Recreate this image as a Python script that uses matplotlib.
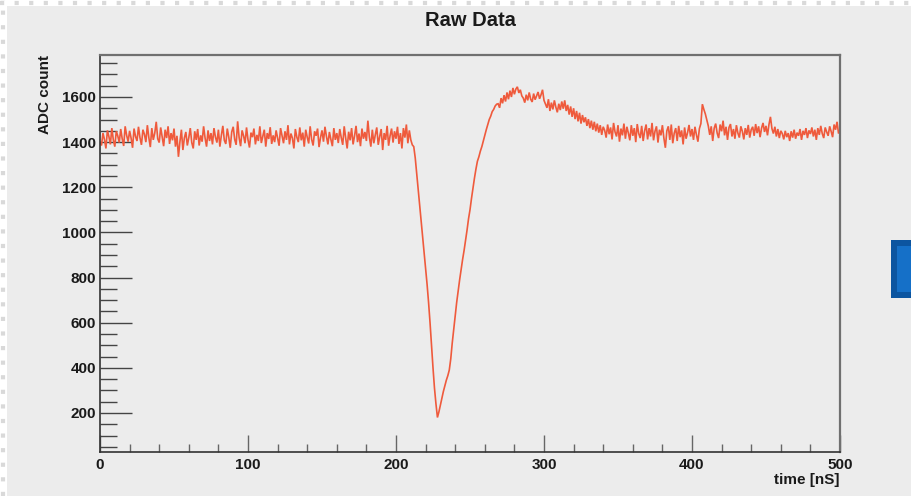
import numpy as np
import matplotlib
matplotlib.use("Agg")
import matplotlib.pyplot as plt
from matplotlib.patches import Rectangle
from matplotlib.lines import Line2D
from matplotlib.ticker import MultipleLocator

plt.rcParams['font.family'] = ['Liberation Sans', 'DejaVu Sans']

title = "Raw Data"
x_label = "time [nS]"
y_label = "ADC count"

# ADC samples, one per nanosecond (t = 0 .. 500)
baseline_pre = [
    1400, 1385, 1440, 1412, 1372, 1452, 1425, 1390, 1462, 1410, 1380, 1448, 1428, 1398, 1458, 1415, 1383, 1470, 1430, 1402,
    1450, 1418, 1375, 1460, 1425, 1405, 1468, 1420, 1388, 1455, 1435, 1400, 1475, 1420, 1378, 1462, 1410, 1440, 1490, 1415,
    1398, 1465, 1425, 1382, 1455, 1418, 1470, 1392, 1440, 1408, 1460, 1380, 1428, 1335, 1402, 1455, 1365, 1418, 1445, 1385,
    1420, 1462, 1398, 1372, 1448, 1410, 1458, 1385, 1430, 1402, 1470, 1418, 1380, 1452, 1405, 1440, 1390, 1462, 1422, 1398,
    1455, 1380, 1430, 1472, 1408, 1392, 1460, 1422, 1375, 1445, 1468, 1412, 1388, 1492, 1420, 1382, 1452, 1428, 1395, 1465,
    1410, 1376, 1442, 1422, 1460, 1390, 1432, 1405, 1470, 1396, 1425, 1455, 1380, 1440, 1414, 1466, 1392, 1430, 1400, 1452,
    1418, 1384, 1462, 1428, 1395, 1448, 1410, 1475, 1390, 1438, 1418, 1372, 1458, 1422, 1400, 1465, 1408, 1442, 1380, 1455,
    1422, 1394, 1470, 1412, 1385, 1448, 1428, 1460, 1378, 1420, 1452, 1402, 1468, 1425, 1390, 1445, 1412, 1382, 1462, 1410,
    1440, 1396, 1458, 1420, 1388, 1470, 1418, 1372, 1446, 1408, 1462, 1390, 1428, 1472, 1400, 1438, 1382, 1460, 1415, 1445,
    1405, 1495, 1422, 1380, 1455, 1395, 1432, 1465, 1388, 1425, 1458, 1365, 1440, 1410, 1472, 1384, 1428, 1460, 1398, 1448,
    1415, 1468, 1392, 1440, 1372, 1462, 1420, 1478, 1395, 1452, 1410, 1388,
]
falling_edge = [1380, 1330, 1260, 1190, 1120, 1050, 980, 910, 840, 770, 690, 600, 500, 400, 310, 240, 180]
rising_edge = [
    205, 235, 265, 295, 320, 345, 365, 390, 440, 510,
    570, 630, 690, 740, 790, 835, 880, 920, 965, 1010,
    1060, 1100, 1150, 1195, 1240, 1280, 1315, 1335, 1360, 1380,
    1405, 1430, 1455, 1478, 1500, 1515, 1535, 1545, 1560, 1568,
]
overshoot = [
    1570, 1552, 1595, 1572, 1608, 1580, 1620, 1590, 1628, 1600,
    1640, 1612, 1635, 1645, 1618, 1632, 1605, 1595, 1575, 1610,
    1585, 1620, 1590, 1578, 1615, 1588, 1605, 1622, 1592, 1610,
    1632, 1585, 1568, 1552, 1590, 1538, 1575, 1545, 1585, 1555,
    1532, 1570, 1542, 1580, 1548, 1585, 1538, 1565, 1522, 1558,
    1512, 1550, 1502, 1538, 1492, 1530, 1482, 1520, 1488, 1510,
    1472, 1502, 1462, 1495, 1455, 1490, 1448, 1482, 1442, 1475,
    1432, 1468,
]
baseline_post = [
    1452, 1420, 1478, 1435, 1465, 1412, 1485, 1445, 1425, 1475, 1402, 1460, 1430, 1482, 1415, 1468, 1440, 1408, 1475, 1428,
    1462, 1400, 1480, 1438, 1418, 1472, 1405, 1450, 1478, 1412, 1462, 1425, 1485, 1408, 1448, 1470, 1398, 1455, 1430, 1475,
    1418, 1375, 1450, 1470, 1410, 1478, 1395, 1440, 1462, 1405, 1472, 1422, 1452, 1390, 1465, 1415, 1442, 1476, 1425, 1458,
    1410, 1468, 1432, 1402, 1460, 1482, 1568, 1545, 1525, 1498, 1472, 1432, 1470, 1405, 1462, 1482, 1440, 1418, 1478, 1448,
    1495, 1430, 1468, 1410, 1465, 1480, 1425, 1458, 1415, 1475, 1440, 1420, 1470, 1448, 1412, 1462, 1432, 1476, 1420, 1455,
    1468, 1428, 1480, 1440, 1470, 1422, 1462, 1485, 1445, 1472, 1430, 1478, 1512, 1460, 1438, 1468, 1425, 1458, 1418, 1450,
    1438, 1412, 1450, 1422, 1440, 1405, 1448, 1420, 1455, 1415, 1442, 1428, 1458, 1410, 1450, 1432, 1462, 1418, 1452, 1436,
    1465, 1425, 1455, 1410, 1462, 1432, 1472, 1438, 1418, 1465, 1445, 1428, 1470, 1448, 1422, 1478, 1455, 1490, 1438, 1455,
]

adc = baseline_pre + falling_edge + rising_edge + overshoot + baseline_post
time_ns = np.arange(len(adc))

x_ticks = [0, 100, 200, 300, 400, 500]
y_ticks = [200, 400, 600, 800, 1000, 1200, 1400, 1600]

W, H = 912, 496
fig = plt.figure(figsize=(W / 100, H / 100), dpi=100, facecolor='#ececec')
ax = fig.add_axes([100 / W, 1 - 452 / H, 740 / W, 397 / H])
ax.set_facecolor('#ececec')

ax.plot(time_ns, adc, color='#ef5a3c', lw=1.2, solid_joinstyle='miter')

ax.set_xlim(0, 500)
ax.set_ylim(27, 1786)
ax.set_xticks(x_ticks)
ax.set_yticks(y_ticks)
ax.xaxis.set_minor_locator(MultipleLocator(20))
ax.yaxis.set_minor_locator(MultipleLocator(50))

ax.tick_params(axis='y', which='major', direction='in', length=23, width=1.0,
               color='#444444', labelsize=11, pad=3)
ax.tick_params(axis='y', which='minor', direction='in', length=12, width=1.0, color='#444444')
ax.tick_params(axis='x', which='major', direction='in', length=12, width=1.0,
               color='#666666', labelsize=11, pad=4)
ax.tick_params(axis='x', which='minor', direction='in', length=6, width=1.0, color='#666666')
for lbl in ax.get_xticklabels() + ax.get_yticklabels():
    lbl.set_color('#1a1a1a')
    lbl.set_fontweight('bold')

for side in ('top', 'right'):
    ax.spines[side].set_color('#707070')
    ax.spines[side].set_linewidth(1.6)
for side in ('left', 'bottom'):
    ax.spines[side].set_color('#333333')
    ax.spines[side].set_linewidth(1.2)

fig.text(470 / W, 1 - 20 / H, title, ha='center', va='center', fontsize=14.5,
         fontweight='bold', color='#1a1a1a')
fig.text(45 / W, 1 - 55 / H, y_label, rotation=90, ha='center', va='top', fontsize=11,
         fontweight='bold', color='#1a1a1a')
fig.text(840 / W, 1 - 480 / H, x_label, ha='right', va='center', fontsize=11,
         fontweight='bold', color='#1a1a1a')

# dotted outer frame (top and left)
fig.add_artist(Rectangle((0, 1 - 6 / H), 1, 6 / H, transform=fig.transFigure,
                         facecolor='white', edgecolor='none'))
fig.add_artist(Rectangle((0, 0), 7 / W, 1, transform=fig.transFigure,
                         facecolor='white', edgecolor='none'))
fig.add_artist(Line2D([0, 1], [1 - 3 / H, 1 - 3 / H], transform=fig.transFigure,
                      color='#d9d9d9', lw=3, linestyle=(0, (1, 2.5))))
fig.add_artist(Line2D([3.5 / W, 3.5 / W], [0, 1], transform=fig.transFigure,
                      color='#d9d9d9', lw=3, linestyle=(0, (1, 2.5))))

# blue box at the right edge
fig.add_artist(Rectangle((891 / W, 1 - 298 / H), 30 / W, 58 / H, transform=fig.transFigure,
                         facecolor='#0c55a0', edgecolor='none'))
fig.add_artist(Rectangle((897 / W, 1 - 292 / H), 30 / W, 46 / H, transform=fig.transFigure,
                         facecolor='#1570c8', edgecolor='none'))

fig.savefig('out.png', dpi=100, facecolor=fig.get_facecolor())
